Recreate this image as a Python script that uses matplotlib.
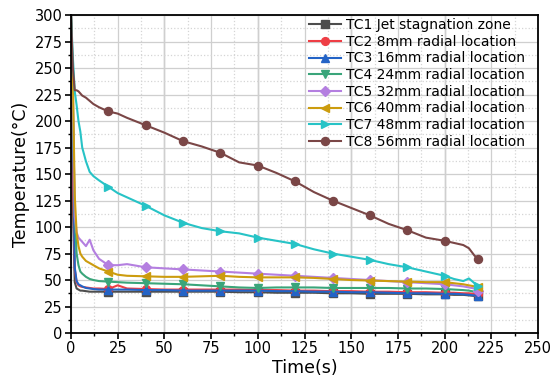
import numpy as np
import matplotlib
matplotlib.use('Agg')
import matplotlib.pyplot as plt

# time axis (s), shared by all thermocouples
t = [0, 1, 2, 3, 4, 5, 6, 8, 10, 12, 15, 20, 25, 30, 40, 50, 60, 70, 80, 90,
     100, 110, 120, 130, 140, 150, 160, 170, 180, 190, 200, 205, 210, 213, 216, 218]

tc1 = [300, 120, 48, 42, 41, 40, 40, 39.5, 39, 39, 39, 39, 39, 39, 39, 39, 39, 39, 39, 38.5,
       38.5, 38, 38, 38, 37.5, 37.5, 37, 37, 37, 36.5, 36.5, 36, 36, 35.5, 35, 34.5]
tc2 = [300, 150, 60, 48, 45, 44, 43.5, 43, 42.5, 42, 42, 41.5, 45, 42, 41.5, 41, 41, 41, 41, 41,
       40.5, 40.5, 40, 40, 39.5, 39.5, 39, 39, 38.5, 38.5, 38, 38, 37.5, 37.5, 37, 36.5]
tc3 = [300, 200, 62, 49, 46, 45, 44, 42.5, 42, 41.5, 41, 41, 41, 41, 40.5, 40.5, 40, 40, 40, 40,
       40, 39.5, 39.5, 39, 39, 38.5, 38.5, 38, 37.5, 37.5, 37, 37, 36.5, 36, 35.5, 35]
tc4 = [300, 220, 110, 75, 64, 58, 56, 53, 51, 50, 49, 48.5, 48, 47.5, 47, 46.5, 46, 45, 44, 43,
       42.5, 43, 43, 43, 42.5, 42.5, 42.5, 42.5, 42, 42, 41.5, 41, 40.5, 40, 39, 38.5]
tc5 = [300, 230, 110, 95, 90, 88, 86, 82, 88, 78, 70, 64, 64, 65, 62, 61, 60, 59, 58, 57,
       56, 55, 54, 53, 52, 51, 50, 49, 48, 47, 46, 45, 44, 43, 42, 40]
tc6 = [300, 240, 130, 95, 82, 75, 72, 68, 66, 64, 61, 58, 55, 54, 53.5, 53, 53, 53.5, 54, 53,
       52.5, 52.5, 52.5, 52, 51, 50, 49.5, 49, 48.5, 48, 48, 47, 46, 45, 44, 43]
tc7 = [300, 260, 228, 215, 200, 190, 175, 162, 152, 148, 144, 138, 132, 128, 120, 111, 104, 99, 96, 94,
       90, 87, 84, 79, 75, 72, 69, 65, 62, 58, 54, 51, 49, 51.5, 47, 44]
tc8 = [300, 250, 229, 229, 228, 226, 224, 222, 219, 216, 213, 209, 207, 203, 196, 189, 181, 176, 170, 161,
       158, 151, 143, 133, 125, 118, 111, 103, 97, 90, 87, 85, 83, 80, 73, 70]

labels = ['TC1 Jet stagnation zone', 'TC2 8mm radial location', 'TC3 16mm radial location',
          'TC4 24mm radial location', 'TC5 32mm radial location', 'TC6 40mm radial location',
          'TC7 48mm radial location', 'TC8 56mm radial location']
series = [tc1, tc2, tc3, tc4, tc5, tc6, tc7, tc8]
colors = ['#4d4d4d', '#ee3e45', '#2363c6', '#3aa57a', '#b47fe0', '#cc9c0e', '#27c3c6', '#7a4646']
markers = ['s', 'o', '^', 'v', 'D', '<', '>', 'o']
msizes = [5.2, 5.6, 5.8, 5.8, 4.8, 5.8, 5.8, 5.8]

# markers every 20 s plus the last reading
mark_idx = [i for i, v in enumerate(t) if v >= 20 and v % 20 == 0] + [len(t) - 1]

plt.rcParams['font.family'] = ['DejaVu Sans']

fig = plt.figure(figsize=(5.53, 3.85), dpi=100)
ax = fig.add_axes([0.1284, 0.135, 0.8445, 0.826])

for y, lab, c, m, ms in zip(series, labels, colors, markers, msizes):
    ax.plot(t, y, color=c, lw=1.5, marker=m, ms=ms, markevery=mark_idx, label=lab)

ax.set_xlim(0, 250)
ax.set_ylim(0, 300)
ax.set_xticks(np.arange(0, 251, 25))
ax.set_xticks(np.arange(0, 251, 12.5), minor=True)
ax.set_yticks(np.arange(0, 301, 25))
ax.set_yticks(np.arange(0, 301, 12.5), minor=True)

# grid: light solid at majors, dotted at minors, darker every 50 s
ax.grid(which='major', color='#cfcfcf', lw=0.9)
ax.grid(which='minor', color='#d5d5d5', lw=0.9, ls=':')
for xv in [50, 100, 150, 200]:
    ax.axvline(xv, color='#9a9a9a', lw=0.9, zorder=0.5)
ax.set_axisbelow(True)

ax.tick_params(which='major', direction='out', length=4, width=1.2, labelsize=10.5, pad=2)
ax.tick_params(which='minor', direction='out', length=2.5, width=1.0)
for s in ax.spines.values():
    s.set_linewidth(1.3)

ax.set_xlabel('Time(s)', fontsize=12.5, labelpad=2)
ax.set_ylabel('Temperature(°C)', fontsize=12.5, labelpad=3)

ax.legend(loc='upper right', bbox_to_anchor=(0.972, 0.99), frameon=False, fontsize=10,
          handlelength=2.3, handletextpad=0.35, labelspacing=0.19, borderpad=0, borderaxespad=0)

fig.savefig('out.png', dpi=100)
